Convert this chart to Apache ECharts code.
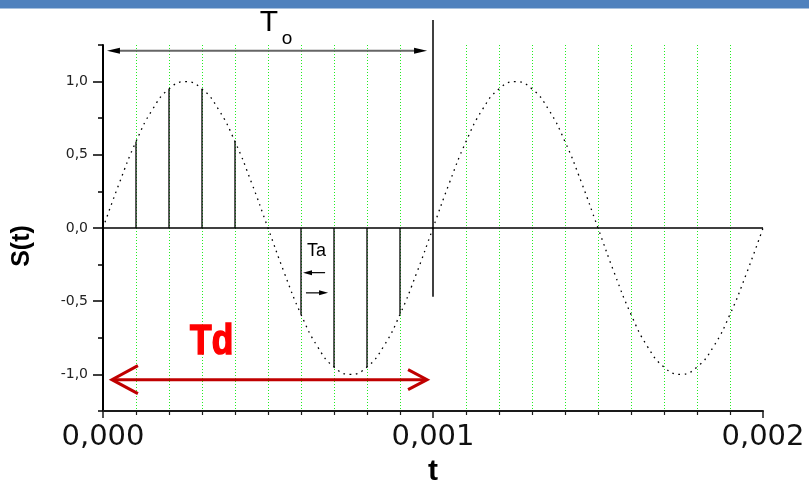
<!DOCTYPE html>
<html><head><meta charset="utf-8">
<script src="https://cdn.jsdelivr.net/npm/echarts@6/dist/echarts.min.js"></script>
<style>html,body{margin:0;padding:0;background:#fff}#c{width:809px;height:481px}</style>
</head><body><div id="c"></div>
<script>
// ---- data ----
const sineT = [0, 0.00005, 0.0001, 0.00015, 0.0002, 0.00025, 0.0003, 0.00035, 0.0004, 0.00045,
  0.0005, 0.00055, 0.0006, 0.00065, 0.0007, 0.00075, 0.0008, 0.00085, 0.0009, 0.00095,
  0.001, 0.00105, 0.0011, 0.00115, 0.0012, 0.00125, 0.0013, 0.00135, 0.0014, 0.00145,
  0.0015, 0.00155, 0.0016, 0.00165, 0.0017, 0.00175, 0.0018, 0.00185, 0.0019, 0.00195, 0.002];
const sineS = [0, 0.31, 0.59, 0.81, 0.95, 1.00, 0.95, 0.81, 0.59, 0.31,
  0, -0.31, -0.59, -0.81, -0.95, -1.00, -0.95, -0.81, -0.59, -0.31,
  0, 0.31, 0.59, 0.81, 0.95, 1.00, 0.95, 0.81, 0.59, 0.31,
  0, -0.31, -0.59, -0.81, -0.95, -1.00, -0.95, -0.81, -0.59, -0.31, 0];
const stemT = [0.0001, 0.0002, 0.0003, 0.0004, 0.0005, 0.0006, 0.0007, 0.0008, 0.0009];
const stemS = [0.59, 0.95, 0.95, 0.59, 0, -0.59, -0.95, -0.95, -0.59];
const xTickLabels = {'0': '0,000', '0.001': '0,001', '0.002': '0,002'};
const yTickValues = [-1, -0.5, 0, 0.5, 1];
const periodLineT = 0.001;
const periodLineRange = [1.42, -0.47];

// annotation anchors (data coordinates)
const toArrow = {x1: 0.000012, x2: 0.000982, y: 1.21};
const tdArrow = {x1: 0.000027, x2: 0.000982, y: -1.036};
const taArrowL = {x1: 0.000673, x2: 0.000606, y: -0.305};
const taArrowR = {x1: 0.000615, x2: 0.000682, y: -0.443};
const labelT = {x: 0.000503, y: 1.40};
const labelO = {x: 0.000558, y: 1.29};
const labelTa = {x: 0.000618, y: -0.16};
const labelTd = {x: 0.000264, y: -0.78};

const chart = echarts.init(document.getElementById('c'), null, {renderer: 'canvas'});

function filledHead(tip, dir, len, half, color) {
  return {type: 'polygon', shape: {points: [[tip[0], tip[1]], [tip[0] - dir * len, tip[1] - half], [tip[0] - dir * len, tip[1] + half]]},
    style: {fill: color}};
}

function renderAnnot(params, api) {
  const c = [];
  // To arrow
  let a = api.coord([toArrow.x1, toArrow.y]), b = api.coord([toArrow.x2, toArrow.y]);
  c.push({type: 'line', shape: {x1: a[0] + 8, y1: a[1], x2: b[0] - 8, y2: b[1]}, style: {stroke: '#666', lineWidth: 2}});
  c.push(filledHead(a, -1, 13, 3, '#000'));
  c.push(filledHead(b, 1, 13, 3, '#000'));
  // Td arrow (open heads)
  a = api.coord([tdArrow.x1, tdArrow.y]); b = api.coord([tdArrow.x2, tdArrow.y]);
  const red = '#c00000';
  c.push({type: 'line', shape: {x1: a[0] + 2, y1: a[1], x2: b[0] - 2, y2: b[1]}, style: {stroke: red, lineWidth: 3}});
  c.push({type: 'polyline', shape: {points: [[a[0] + 26, a[1] - 14], [a[0], a[1]], [a[0] + 26, a[1] + 14]]}, style: {stroke: red, lineWidth: 3, fill: null}});
  c.push({type: 'polyline', shape: {points: [[b[0] - 19, b[1] - 10], [b[0], b[1]], [b[0] - 19, b[1] + 10]]}, style: {stroke: red, lineWidth: 3, fill: null}});
  // Ta arrows
  a = api.coord([taArrowL.x1, taArrowL.y]); b = api.coord([taArrowL.x2, taArrowL.y]);
  c.push({type: 'line', shape: {x1: a[0], y1: a[1], x2: b[0] + 6, y2: b[1]}, style: {stroke: '#000', lineWidth: 1.2}});
  c.push(filledHead(b, -1, 9, 2.5, '#000'));
  a = api.coord([taArrowR.x1, taArrowR.y]); b = api.coord([taArrowR.x2, taArrowR.y]);
  c.push({type: 'line', shape: {x1: a[0], y1: a[1], x2: b[0] - 6, y2: b[1]}, style: {stroke: '#000', lineWidth: 1.2}});
  c.push(filledHead(b, 1, 9, 2.5, '#000'));
  // texts
  let p = api.coord([labelT.x, labelT.y]);
  c.push({type: 'text', x: p[0], y: p[1], style: {text: 'T', fontSize: 30, fontFamily: 'Liberation Sans', fill: '#000', align: 'center', verticalAlign: 'middle'}});
  p = api.coord([labelO.x, labelO.y]);
  c.push({type: 'text', x: p[0], y: p[1], style: {text: 'o', fontSize: 19, fontFamily: 'Liberation Sans', fill: '#000', align: 'center', verticalAlign: 'middle'}});
  p = api.coord([labelTa.x, labelTa.y]);
  c.push({type: 'text', x: p[0], y: p[1], style: {text: 'Ta', fontSize: 18, fontFamily: 'Liberation Sans', fill: '#000', align: 'left', verticalAlign: 'middle'}});
  p = api.coord([labelTd.x, labelTd.y]);
  c.push({type: 'text', x: p[0], y: p[1], scaleX: 0.84, style: {text: 'Td', fontSize: 42, fontWeight: 'bold', fontFamily: 'Liberation Sans', fill: '#ff0000', stroke: '#ff0000', lineWidth: 1.6, align: 'left', verticalAlign: 'middle'}});
  return {type: 'group', children: c};
}

const gridTop = 45, gridBottom = 70, plotH = 481 - gridTop - gridBottom;
const quarter = plotH * 0.25 / 2.5;

const option = {
  animation: false,
  backgroundColor: '#fff',
  graphic: [{type: 'rect', left: 0, top: 0, shape: {width: 809, height: 8.5}, style: {fill: '#4f81bd'}, silent: true}],
  grid: [
    {left: 103, right: 46, top: gridTop, bottom: gridBottom, containLabel: false, outerBoundsMode: 'none'},
    {left: 103, right: 46, top: gridTop + quarter, bottom: gridBottom + quarter, containLabel: false, outerBoundsMode: 'none'}
  ],
  xAxis: [
    {
      type: 'value', gridIndex: 0, min: 0, max: 0.002, interval: 0.001, position: 'bottom',
      name: 't', nameLocation: 'middle', nameGap: 44,
      nameTextStyle: {fontSize: 30, fontWeight: 'bold', fontFamily: 'Liberation Sans', color: '#000', verticalAlign: 'top'},
      axisLine: {show: true, onZero: false, lineStyle: {color: '#1a1a1a', width: 2}},
      axisTick: {show: true, length: 7, lineStyle: {color: '#1a1a1a', width: 1.5}},
      minorTick: {show: true, splitNumber: 10, length: 4, lineStyle: {color: '#1a1a1a', width: 1.2}},
      minorSplitLine: {show: true, lineStyle: {color: '#22ee22', width: 1, type: [1, 2]}},
      splitLine: {show: false},
      axisLabel: {fontSize: 29, fontFamily: 'DejaVu Sans', color: '#111', margin: 12,
        formatter: v => xTickLabels[String(Math.round(v * 1000) / 1000)] || ''}
    },
    {type: 'value', gridIndex: 1, min: 0, max: 0.002, show: false}
  ],
  yAxis: [
    {
      type: 'value', gridIndex: 0, min: -1.25, max: 1.25, interval: 0.25,
      name: 'S(t)', nameLocation: 'middle', nameGap: 68,
      nameTextStyle: {fontSize: 25, fontWeight: 'bold', fontFamily: 'Liberation Sans', color: '#000', padding: [0, 36, 0, 0]},
      axisLine: {show: true, onZero: false, lineStyle: {color: '#000', width: 2}},
      axisTick: {show: true, length: 5, lineStyle: {color: '#000', width: 1.5}},
      axisLabel: {show: false},
      splitLine: {show: false}
    },
    {
      type: 'value', gridIndex: 1, min: -1, max: 1, interval: 0.5,
      axisLine: {show: false, onZero: false},
      axisTick: {show: true, length: 10, lineStyle: {color: '#000', width: 1.5}},
      axisLabel: {fontSize: 14, fontFamily: 'DejaVu Sans', color: '#222', margin: 15,
        formatter: v => yTickValues.indexOf(Math.round(v * 10) / 10) >= 0 ? (Math.round(v * 10) / 10).toFixed(1).replace('.', ',') : ''},
      splitLine: {show: false}
    }
  ],
  series: [
    {
      type: 'line', xAxisIndex: 0, yAxisIndex: 0, smooth: true, showSymbol: false, symbol: 'none',
      data: sineT.map((t, i) => [t, sineS[i]]),
      lineStyle: {color: '#000', width: 1.3, type: [1.6, 4.6]},
      markLine: {
        silent: true, symbol: 'none', label: {show: false},
        lineStyle: {color: '#000', width: 1.5, type: 'solid'},
        data: [{yAxis: 0}]
      },
      z: 3
    },
    {
      type: 'custom', xAxisIndex: 0, yAxisIndex: 0, clip: false,
      data: stemT.map((t, i) => [t, stemS[i]]),
      encode: {x: 0, y: 1},
      renderItem: (params, api) => {
        const t = api.value(0), v = api.value(1);
        if (v === 0) return null;
        const p0 = api.coord([t, 0]), p1 = api.coord([t, v]);
        return {type: 'line', shape: {x1: p0[0], y1: p0[1], x2: p1[0], y2: p1[1]}, style: {stroke: '#000', lineWidth: 1.3}};
      },
      z: 4
    },
    {
      type: 'custom', xAxisIndex: 0, yAxisIndex: 0, clip: false,
      data: [[periodLineT, periodLineRange[0], periodLineRange[1]]],
      encode: {x: 0, y: [1, 2]},
      renderItem: (params, api) => {
        const p0 = api.coord([api.value(0), api.value(1)]), p1 = api.coord([api.value(0), api.value(2)]);
        return {type: 'line', shape: {x1: p0[0], y1: p0[1], x2: p1[0], y2: p1[1]}, style: {stroke: '#000', lineWidth: 1.5}};
      },
      z: 4
    },
    {
      type: 'custom', xAxisIndex: 0, yAxisIndex: 0, clip: false,
      data: [[0, 0]],
      encode: {x: 0, y: 1},
      renderItem: renderAnnot,
      z: 5
    }
  ]
};
chart.setOption(option);
</script></body></html>
